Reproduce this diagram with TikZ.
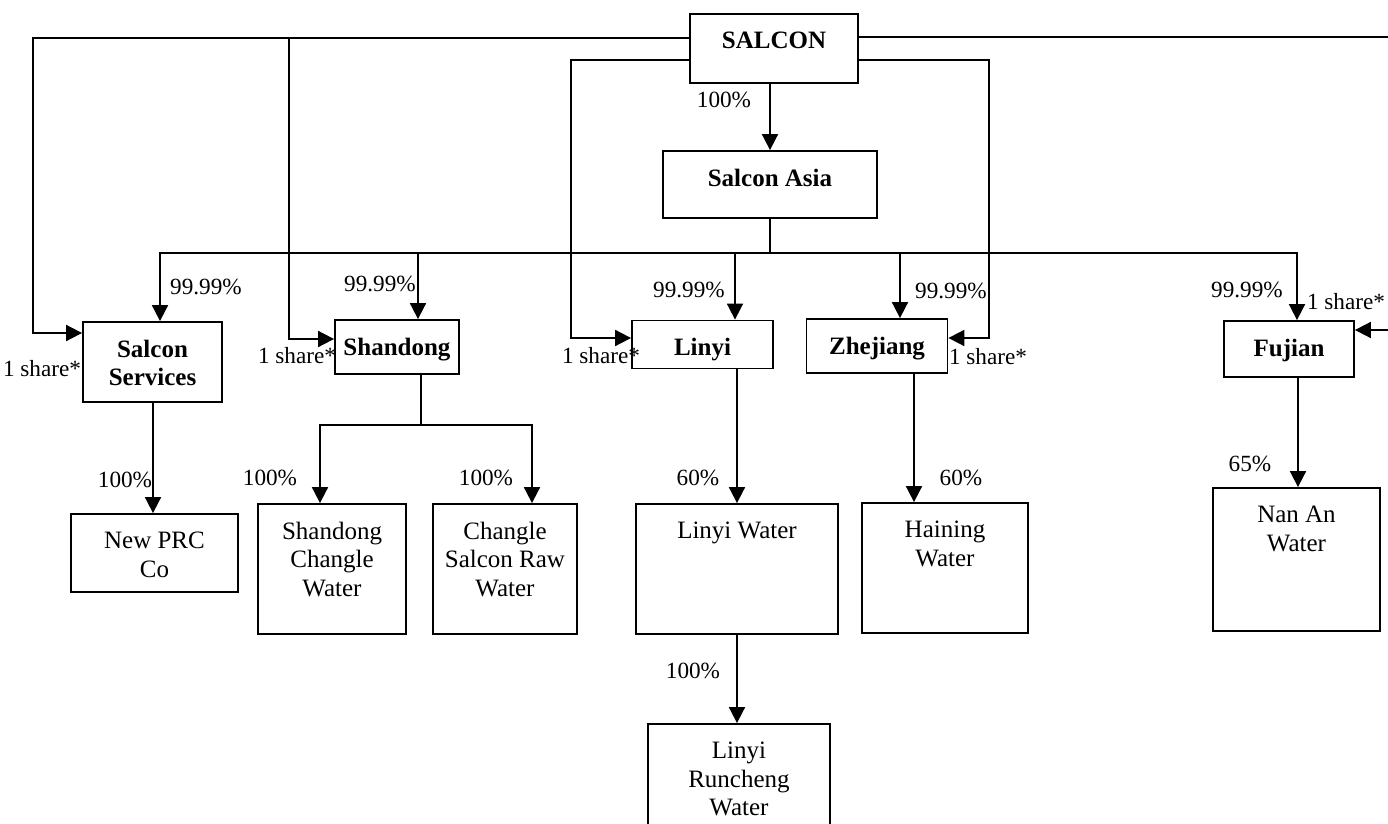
\documentclass[tikz,border=0pt]{standalone}
\usepackage{fontspec}
\setmainfont{Liberation Serif}
\usetikzlibrary{arrows.meta,positioning}
\begin{document}
\begin{tikzpicture}[x=0.5pt,y=-0.5pt,line width=0.9pt,
ent/.style={draw,inner sep=0pt},
intext/.style={anchor=north,align=center,inner sep=0pt,yshift=-9pt,font=\fontsize{12.5}{14.3}\selectfont},
inbold/.style={intext,font=\fontsize{12.5}{14.3}\selectfont\bfseries},
pct/.style={inner sep=0pt,font=\fontsize{11.6}{13}\selectfont},
own/.style={-{Triangle[length=8pt,width=8pt]}}]
\useasboundingbox (0,0) rectangle (1388,824);
% companies
\node[ent,minimum width=84pt,minimum height=34.5pt,label={[inbold]north:SALCON}] (salcon) at (774,48.5) {};
\node[ent,minimum width=107pt,minimum height=33.5pt,label={[inbold]north:Salcon Asia}] (asia) at (770,184.5) {};
\node[ent,minimum width=69.5pt,minimum height=40pt,label={[inbold]north:Salcon\\Services}] (serv) at (152.5,362) {};
\node[ent,minimum width=62pt,minimum height=27pt,label={[inbold]north:Shandong}] (shan) at (397,347) {};
\node[ent,minimum width=70.5pt,minimum height=24pt,label={[inbold]north:Linyi}] (linyi) at (702.5,344.5) {};
\node[ent,minimum width=70.5pt,minimum height=27pt,label={[inbold]north:Zhejiang}] (zhe) at (877,346) {};
\node[ent,minimum width=65pt,minimum height=28pt,label={[inbold]north:Fujian}] (fuj) at (1289,349) {};
\node[ent,minimum width=83.5pt,minimum height=39pt,label={[intext]north:New PRC\\Co}] (nprc) at (154.5,553) {};
\node[ent,minimum width=74pt,minimum height=65pt,label={[intext]north:Shandong\\Changle\\Water}] (scw) at (332,569) {};
\node[ent,minimum width=72pt,minimum height=65pt,label={[intext]north:Changle\\Salcon Raw\\Water}] (csrw) at (505,569) {};
\node[ent,minimum width=101pt,minimum height=65pt,label={[intext]north:Linyi Water}] (lw) at (737,569) {};
\node[ent,minimum width=91pt,minimum height=70pt,label={[intext]north:Linyi\\Runcheng\\Water}] (lrw) at (739,794) {};
\node[ent,minimum width=83pt,minimum height=65pt,label={[intext]north:Haining\\Water}] (hw) at (945,568) {};
\node[ent,minimum width=83.5pt,minimum height=71.5pt,label={[intext]north:Nan An\\Water}] (naw) at (1296.5,559.5) {};
% holdings
\node[pct] (p0) at (724,100) {100\%};
\node[pct] (p1) at (206,287) {99.99\%};
\node[pct] (p2) at (380,284) {99.99\%};
\node[pct] (p3) at (689,290) {99.99\%};
\node[pct] (p4) at (951,291) {99.99\%};
\node[pct] (p5) at (1247,290) {99.99\%};
\node[pct] (s1) at (42,369) {1 share*};
\node[pct] (s2) at (297,356) {1 share*};
\node[pct] (s3) at (601,356) {1 share*};
\node[pct] (s4) at (988,357) {1 share*};
\node[pct] (s5) at (1346,302) {1 share*};
\node[pct] (p6) at (125,480) {100\%};
\node[pct] (p7) at (270,478) {100\%};
\node[pct] (p8) at (486,478) {100\%};
\node[pct] (p9) at (698,478) {60\%};
\node[pct] (p10) at (693,671) {100\%};
\node[pct] (p11) at (961,478) {60\%};
\node[pct] (p12) at (1250,464) {65\%};
\coordinate (bus) at (770,253);
\coordinate (sj) at (421,425);
\draw[own] (salcon.west |- 0,38) -| (33,333) -- (serv.west |- 0,333);
\draw[own] (salcon.west |- 0,38) -| (289,339) -- (shan.west |- 0,339);
\draw[own] (salcon.west |- 0,60) -| (571,338) -- (linyi.west |- 0,338);
\draw[own] (salcon.east |- 0,60) -| (989,338) -- (zhe.east |- 0,338);
\draw[own] (salcon.east |- 0,37) -- (1400,37) -- (1400,330) -- (fuj.east |- 0,330);
\draw[own] (salcon.south -| asia.north) -- (asia.north);
\draw (asia.south) -- (bus);
\draw[own] (bus) -| (serv.north -| 160,0);
\draw[own] (bus) -| (shan.north -| 418,0);
\draw[own] (bus) -| (linyi.north -| 735,0);
\draw[own] (bus) -| (zhe.north -| 900,0);
\draw[own] (bus) -| (fuj.north -| 1297,0);
\draw[own] (serv.south -| 153,0) -- (nprc.north -| 153,0);
\draw (shan.south -| sj) -- (sj);
\draw[own] (sj) -| (scw.north -| 320,0);
\draw[own] (sj) -| (csrw.north -| 532,0);
\draw[own] (linyi.south -| lw.north) -- (lw.north);
\draw[own] (lw.south) -- (lrw.north -| lw.south);
\draw[own] (zhe.south -| 914,0) -- (hw.north -| 914,0);
\draw[own] (fuj.south -| 1298,0) -- (naw.north -| 1298,0);
\end{tikzpicture}
\end{document}
